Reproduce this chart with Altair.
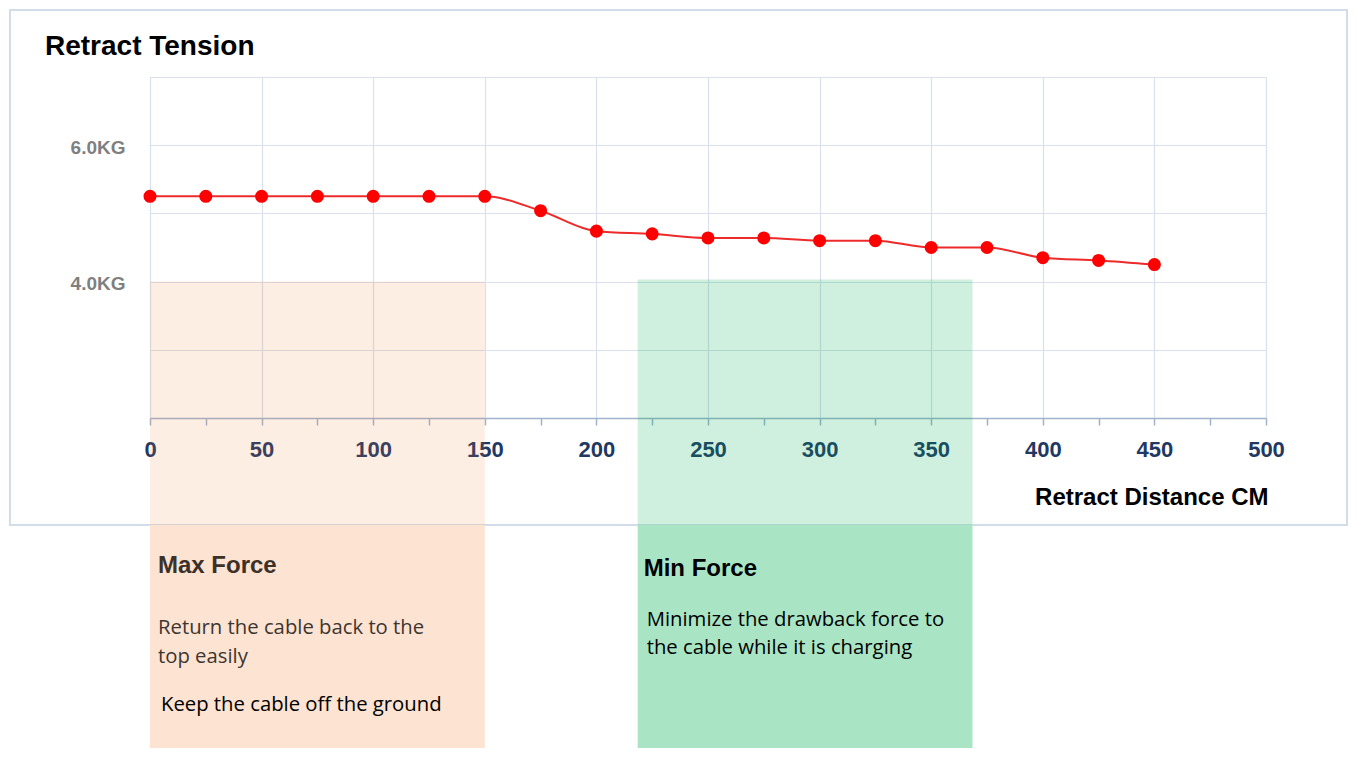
import altair as alt
import pandas as pd

# ---- data ----
distance = [0, 25, 50, 75, 100, 125, 150, 175, 200, 225, 250, 275, 300, 325, 350, 375, 400, 425, 450]
tension = [5.25, 5.25, 5.25, 5.25, 5.25, 5.25, 5.25, 5.04, 4.74, 4.70, 4.64, 4.64, 4.60, 4.60,
           4.50, 4.50, 4.35, 4.31, 4.25]

x_ticks = list(range(0, 501, 25))
y_ticks = [2, 3, 4, 5, 6, 7]

band_names = ["Max Force", "Min Force"]
band_start = [0, 218.5]
band_end = [150, 368.5]
band_top = [4.0, 4.03]
band_tint = ["#ED7D31", "#00B050"]
band_tint_opacity = [0.13, 0.19]
band_solid = ["#FCE3D2", "#A9E5C5"]

chart_title = "Retract Tension"
notes_max_body = "Return the cable back to the\ntop easily"
notes_max_extra = "Keep the cable off the ground"
notes_min_body = "Minimize the drawback force to\nthe cable while it is charging"

ARIAL = "Liberation Sans"
BODY = "Open Sans"

df = pd.DataFrame({"distance": distance, "tension": tension})
bands = pd.DataFrame({
    "name": band_names, "start": band_start, "end": band_end, "top": band_top,
    "tint": band_tint, "op": band_tint_opacity, "solid": band_solid,
})

xscale = alt.Scale(domain=[0, 500], nice=False, zero=False)
yscale = alt.Scale(domain=[2, 7], nice=False, zero=False)

x_axis = alt.Axis(
    values=x_ticks,
    labelExpr="datum.value % 50 == 0 ? datum.label : ''",
    labelFlush=False, labelOverlap=False,
    labelFont=ARIAL, labelFontSize=22, labelFontWeight="bold", labelColor="#1F3864",
    labelBaseline="alphabetic", labelPadding=31,
    tickSize=7, tickColor="#9FB3CB", tickWidth=1.5,
    domainColor="#9FB3CB", domainWidth=1.5,
    grid=True, gridColor="#D8E1EC", gridWidth=1.2,
    gridOpacity={"condition": {"test": "datum.value % 50 === 0", "value": 1}, "value": 0},
    title="Retract Distance CM", titleFont=ARIAL, titleFontSize=24, titleFontWeight="bold",
    titleColor="black", titleAlign="right", titleBaseline="alphabetic", titleX=1118, titleY=86,
)

y_axis = alt.Axis(
    values=y_ticks,
    labelExpr="datum.value == 4 || datum.value == 6 ? format(datum.value, '.1f') + 'KG' : ''",
    labelOverlap=False, domain=False, ticks=False,
    labelFont=ARIAL, labelFontSize=19, labelFontWeight="bold", labelColor="#7F7F7F",
    labelBaseline="alphabetic", labelOffset=8, labelPadding=25,
    grid=True, gridColor="#D8E1EC", gridWidth=1.2,
    title=None,
)

one = pd.DataFrame({"label": [chart_title]})

frame = alt.Chart(one).mark_rect(
    fillOpacity=0, stroke="#D3DDE9", strokeWidth=2
).encode(
    x=alt.value(-140), x2=alt.value(1197), y=alt.value(-67), y2=alt.value(448)
)

title_text = alt.Chart(one).mark_text(
    align="left", baseline="alphabetic", font=ARIAL, fontSize=28, fontWeight="bold", color="black"
).encode(x=alt.value(-105), y=alt.value(-22), text="label:N")

band_inner = alt.Chart(bands).mark_rect().encode(
    x=alt.X("start:Q", scale=xscale, axis=x_axis),
    x2="end:Q",
    y=alt.Y("top:Q", scale=yscale, axis=y_axis),
    y2=alt.value(448),
    color=alt.Color("tint:N", scale=None),
    opacity=alt.Opacity("op:Q", scale=None),
)

band_outer = alt.Chart(bands).mark_rect().encode(
    x=alt.X("start:Q", scale=xscale),
    x2="end:Q",
    y=alt.value(448),
    y2=alt.value(700),
    color=alt.Color("solid:N", scale=None),
)

line = alt.Chart(df).mark_line(color="#EE2B2B", strokeWidth=2, interpolate="monotone").encode(
    x=alt.X("distance:Q", scale=xscale),
    y=alt.Y("tension:Q", scale=yscale),
)
points = alt.Chart(df).mark_circle(color="#FF0000", opacity=1, size=170).encode(
    x=alt.X("distance:Q", scale=xscale),
    y=alt.Y("tension:Q", scale=yscale),
)


def note(idx, text, py, size, weight, color, dx, font, lh=None):
    kw = dict(align="left", baseline="alphabetic", font=font, fontSize=size,
              fontWeight=weight, color=color, dx=dx)
    if lh is not None:
        kw["lineBreak"] = "\n"
        kw["lineHeight"] = lh
    return alt.Chart(bands.iloc[[idx]].assign(label=text)).mark_text(**kw).encode(
        x=alt.X("start:Q", scale=xscale),
        y=alt.value(py),
        text="label:N",
    )


texts = [
    note(0, band_names[0], 496, 24, "bold", "#3B3129", 8, ARIAL),
    note(0, notes_max_body, 557, 20.3, "normal", "#3D3530", 8, BODY, 29),
    note(0, notes_max_extra, 634, 20.3, "normal", "#000000", 11, BODY),
    note(1, band_names[1], 499, 24, "bold", "#000000", 6, ARIAL),
    note(1, notes_min_body, 549, 20.3, "normal", "#000000", 9, BODY, 28),
]

chart = alt.layer(frame, band_inner, band_outer, line, points, title_text, *texts).properties(
    width=1116, height=341,
    padding={"left": 142, "top": 69, "right": 83, "bottom": 330},
    autosize=alt.AutoSizeParams(type="none"),
).configure_view(stroke=None).configure(background="white")

chart.save("out.html", embed_options={"renderer": "svg", "actions": False})
